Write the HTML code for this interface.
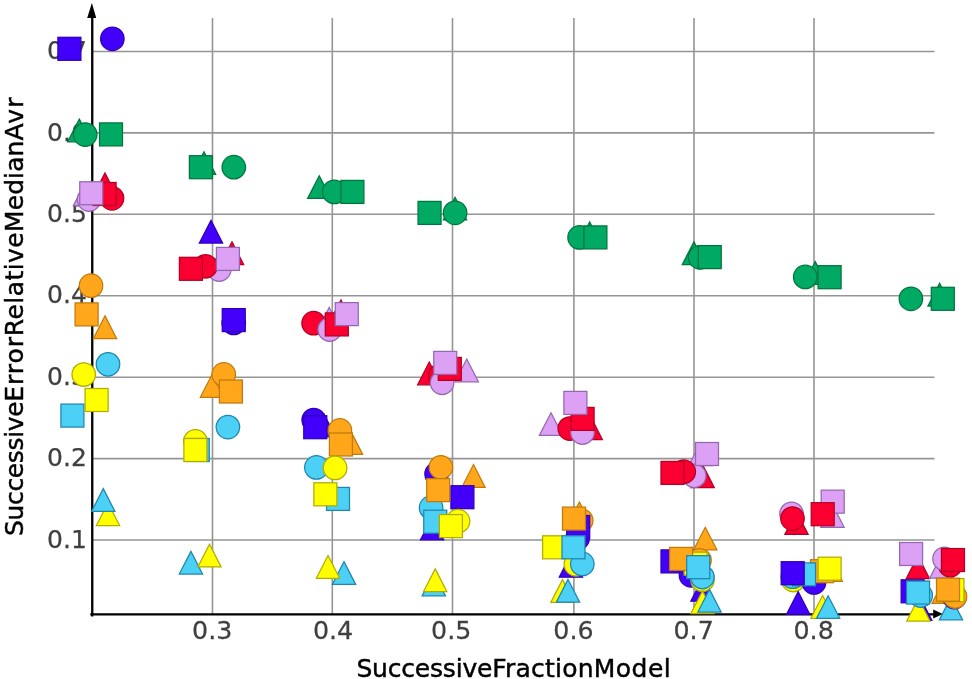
<!DOCTYPE html>
<html><head><meta charset="utf-8"><title>SuccessiveFractionModel</title>
<style>
html,body{margin:0;padding:0;background:#fff}
svg{display:block}
text{font-family:"DejaVu Sans","Liberation Sans",sans-serif}
.tk{font-size:25px;fill:#404040;stroke:#404040;stroke-width:0.25px}
.lb{font-size:25px;fill:#000;stroke:#000;stroke-width:0.45px}
</style></head><body>
<svg width="972" height="679" viewBox="0 0 972 679">
<rect width="972" height="679" fill="#fff"/>

<g stroke="#959595" stroke-width="1.6" fill="none">
<line x1="212.5" y1="18" x2="212.5" y2="614"/>
<line x1="332.3" y1="18" x2="332.3" y2="614"/>
<line x1="452.5" y1="18" x2="452.5" y2="614"/>
<line x1="573.9" y1="18" x2="573.9" y2="614"/>
<line x1="694.0" y1="18" x2="694.0" y2="614"/>
<line x1="814" y1="18" x2="814" y2="614"/>
<line x1="92" y1="51.5" x2="934.5" y2="51.5"/>
<line x1="92" y1="132.9" x2="934.5" y2="132.9"/>
<line x1="92" y1="214.3" x2="934.5" y2="214.3"/>
<line x1="92" y1="295.75" x2="934.5" y2="295.75"/>
<line x1="92" y1="377.2" x2="934.5" y2="377.2"/>
<line x1="92" y1="458.6" x2="934.5" y2="458.6"/>
<line x1="92" y1="540.0" x2="934.5" y2="540.0"/>
</g>
<g class="tk">
<text transform="translate(212.2,638.5) scale(1.012,1)" text-anchor="middle">0.3</text>
<text transform="translate(333.0,638.5) scale(1.012,1)" text-anchor="middle">0.4</text>
<text transform="translate(451.2,638.5) scale(1.012,1)" text-anchor="middle">0.5</text>
<text transform="translate(573.4,638.5) scale(1.012,1)" text-anchor="middle">0.6</text>
<text transform="translate(693.6,638.5) scale(1.012,1)" text-anchor="middle">0.7</text>
<text transform="translate(813.6,638.5) scale(1.012,1)" text-anchor="middle">0.8</text>
<text transform="translate(86.8,59.1) scale(1.0,1)" text-anchor="end">0.7</text>
<text transform="translate(86.8,140.5) scale(1.0,1)" text-anchor="end">0.6</text>
<text transform="translate(86.8,221.9) scale(1.0,1)" text-anchor="end">0.5</text>
<text transform="translate(86.8,303.35) scale(1.0,1)" text-anchor="end">0.4</text>
<text transform="translate(86.8,384.8) scale(1.0,1)" text-anchor="end">0.3</text>
<text transform="translate(86.8,466.20000000000005) scale(1.0,1)" text-anchor="end">0.2</text>
<text transform="translate(86.8,547.6) scale(1.0,1)" text-anchor="end">0.1</text>
</g>
<g stroke="#000" stroke-width="2.3" fill="none"><line x1="92.25" y1="10" x2="92.25" y2="616.4"/><line x1="90.3" y1="614.4" x2="936" y2="614.4"/></g>
<path d="M91.9 3 L96.2 18 L87.2 18 Z" fill="#000"/>
<path d="M942.9 614.0 L933.2 609.4 L933.2 618.6 Z" fill="#000"/>
<text class="lb" x="356.4" y="676.5" dx="0.00 -0.20 -0.21 -0.20 -0.20 -0.20 -0.21 -0.20 -0.20 -0.21 -0.20 0.21 0.21 0.21 0.21 0.21 0.21 0.21 0.21 0.50 0.50 0.50 0.50">SuccessiveFractionModel</text>
<text class="lb" transform="translate(22.8,0) rotate(-90)" x="-536.0" y="0" dx="0.00 -0.36 -0.35 -0.36 -0.36 -0.35 -0.36 -0.36 -0.36 -0.35 -0.36 0.93 0.93 0.93 0.93 0.93 0.41 0.41 0.41 0.41 0.41 0.41 0.41 0.41 0.08 0.08 0.08 0.08 0.08 0.08 1.16 1.16">SuccessiveErrorRelativeMedianAvr</text>
<g stroke-width="1.25" stroke-linejoin="miter">
<rect x="57.90" y="37.30" width="23.0" height="23.0" fill="#4200fa" stroke="#3000b8"/>
<circle cx="112.35" cy="38.80" r="11.75" fill="#4200fa" stroke="#3000b8"/>
<polygon points="79.30,119.05 90.95,141.75 67.65,141.75" fill="#00a964" stroke="#00763c"/>
<circle cx="85.20" cy="134.60" r="11.75" fill="#00a964" stroke="#00763c"/>
<rect x="99.50" y="122.90" width="23.0" height="23.0" fill="#00a964" stroke="#00763c"/>
<polygon points="85.00,183.15 96.65,205.85 73.35,205.85" fill="#dca0f4" stroke="#9468b0"/>
<polygon points="105.00,172.95 116.65,195.65 93.35,195.65" fill="#fa0030" stroke="#b40026"/>
<circle cx="89.00" cy="199.50" r="11.75" fill="#dca0f4" stroke="#9468b0"/>
<circle cx="112.00" cy="198.30" r="11.75" fill="#fa0030" stroke="#b40026"/>
<rect x="93.10" y="182.50" width="23.0" height="23.0" fill="#fa0030" stroke="#b40026"/>
<rect x="79.75" y="181.75" width="23.0" height="23.0" fill="#dca0f4" stroke="#9468b0"/>
<circle cx="91.00" cy="285.70" r="11.75" fill="#ffa61a" stroke="#c07a0c"/>
<polygon points="105.00,315.85 116.65,338.55 93.35,338.55" fill="#ffa61a" stroke="#c07a0c"/>
<rect x="75.10" y="302.90" width="23.0" height="23.0" fill="#ffa61a" stroke="#c07a0c"/>
<circle cx="108.00" cy="364.25" r="11.75" fill="#4cd0f6" stroke="#1f86ac"/>
<circle cx="83.75" cy="374.50" r="11.75" fill="#ffff00" stroke="#b0ac00"/>
<rect x="60.90" y="404.10" width="23.0" height="23.0" fill="#4cd0f6" stroke="#1f86ac"/>
<rect x="85.10" y="388.50" width="23.0" height="23.0" fill="#ffff00" stroke="#b0ac00"/>
<polygon points="108.00,502.85 119.65,525.55 96.35,525.55" fill="#ffff00" stroke="#b0ac00"/>
<polygon points="103.25,488.65 114.90,511.35 91.60,511.35" fill="#4cd0f6" stroke="#1f86ac"/>
<polygon points="204.00,151.75 215.65,174.45 192.35,174.45" fill="#00a964" stroke="#00763c"/>
<rect x="189.40" y="155.70" width="23.0" height="23.0" fill="#00a964" stroke="#00763c"/>
<circle cx="233.80" cy="167.20" r="11.75" fill="#00a964" stroke="#00763c"/>
<polygon points="211.00,220.35 222.65,243.05 199.35,243.05" fill="#4200fa" stroke="#3000b8"/>
<polygon points="232.00,241.85 243.65,264.55 220.35,264.55" fill="#fa0030" stroke="#b40026"/>
<circle cx="219.20" cy="269.50" r="11.75" fill="#dca0f4" stroke="#9468b0"/>
<circle cx="205.50" cy="266.25" r="11.75" fill="#fa0030" stroke="#b40026"/>
<rect x="179.40" y="257.30" width="23.0" height="23.0" fill="#fa0030" stroke="#b40026"/>
<rect x="216.40" y="247.40" width="23.0" height="23.0" fill="#dca0f4" stroke="#9468b0"/>
<circle cx="233.75" cy="322.90" r="11.75" fill="#4200fa" stroke="#3000b8"/>
<rect x="222.25" y="308.60" width="23.0" height="23.0" fill="#4200fa" stroke="#3000b8"/>
<polygon points="212.00,374.55 223.65,397.25 200.35,397.25" fill="#ffa61a" stroke="#c07a0c"/>
<circle cx="223.75" cy="374.40" r="11.75" fill="#ffa61a" stroke="#c07a0c"/>
<rect x="219.40" y="380.00" width="23.0" height="23.0" fill="#ffa61a" stroke="#c07a0c"/>
<circle cx="227.90" cy="427.10" r="11.75" fill="#4cd0f6" stroke="#1f86ac"/>
<circle cx="195.40" cy="441.25" r="11.75" fill="#ffff00" stroke="#b0ac00"/>
<rect x="186.25" y="438.50" width="23.0" height="23.0" fill="#4cd0f6" stroke="#1f86ac"/>
<rect x="183.90" y="438.50" width="23.0" height="23.0" fill="#ffff00" stroke="#b0ac00"/>
<polygon points="190.90,551.35 202.55,574.05 179.25,574.05" fill="#4cd0f6" stroke="#1f86ac"/>
<polygon points="209.50,544.25 221.15,566.95 197.85,566.95" fill="#ffff00" stroke="#b0ac00"/>
<polygon points="319.25,175.75 330.90,198.45 307.60,198.45" fill="#00a964" stroke="#00763c"/>
<circle cx="334.25" cy="191.90" r="11.75" fill="#00a964" stroke="#00763c"/>
<rect x="340.90" y="180.40" width="23.0" height="23.0" fill="#00a964" stroke="#00763c"/>
<polygon points="341.00,299.95 352.65,322.65 329.35,322.65" fill="#fa0030" stroke="#b40026"/>
<polygon points="329.25,307.45 340.90,330.15 317.60,330.15" fill="#dca0f4" stroke="#9468b0"/>
<circle cx="313.60" cy="323.20" r="11.75" fill="#fa0030" stroke="#b40026"/>
<circle cx="329.70" cy="329.50" r="11.75" fill="#dca0f4" stroke="#9468b0"/>
<rect x="325.30" y="312.90" width="23.0" height="23.0" fill="#fa0030" stroke="#b40026"/>
<rect x="335.25" y="302.60" width="23.0" height="23.0" fill="#dca0f4" stroke="#9468b0"/>
<polygon points="324.00,414.15 335.65,436.85 312.35,436.85" fill="#4200fa" stroke="#3000b8"/>
<circle cx="313.70" cy="420.00" r="11.75" fill="#4200fa" stroke="#3000b8"/>
<rect x="303.75" y="415.70" width="23.0" height="23.0" fill="#4200fa" stroke="#3000b8"/>
<polygon points="351.00,431.65 362.65,454.35 339.35,454.35" fill="#ffa61a" stroke="#c07a0c"/>
<circle cx="339.90" cy="430.40" r="11.75" fill="#ffa61a" stroke="#c07a0c"/>
<rect x="329.40" y="433.00" width="23.0" height="23.0" fill="#ffa61a" stroke="#c07a0c"/>
<circle cx="316.40" cy="467.40" r="11.75" fill="#4cd0f6" stroke="#1f86ac"/>
<circle cx="335.10" cy="467.90" r="11.75" fill="#ffff00" stroke="#b0ac00"/>
<rect x="326.50" y="487.40" width="23.0" height="23.0" fill="#4cd0f6" stroke="#1f86ac"/>
<rect x="313.90" y="482.80" width="23.0" height="23.0" fill="#ffff00" stroke="#b0ac00"/>
<polygon points="344.00,561.65 355.65,584.35 332.35,584.35" fill="#4cd0f6" stroke="#1f86ac"/>
<polygon points="328.00,555.55 339.65,578.25 316.35,578.25" fill="#ffff00" stroke="#b0ac00"/>
<polygon points="455.00,197.25 466.65,219.95 443.35,219.95" fill="#00a964" stroke="#00763c"/>
<rect x="418.05" y="201.40" width="23.0" height="23.0" fill="#00a964" stroke="#00763c"/>
<circle cx="455.10" cy="212.80" r="11.75" fill="#00a964" stroke="#00763c"/>
<polygon points="429.25,362.05 440.90,384.75 417.60,384.75" fill="#fa0030" stroke="#b40026"/>
<polygon points="466.75,359.05 478.40,381.75 455.10,381.75" fill="#dca0f4" stroke="#9468b0"/>
<circle cx="440.40" cy="375.30" r="11.75" fill="#fa0030" stroke="#b40026"/>
<circle cx="442.10" cy="382.75" r="11.75" fill="#dca0f4" stroke="#9468b0"/>
<rect x="438.30" y="357.40" width="23.0" height="23.0" fill="#fa0030" stroke="#b40026"/>
<rect x="433.75" y="351.40" width="23.0" height="23.0" fill="#dca0f4" stroke="#9468b0"/>
<circle cx="436.60" cy="474.10" r="11.75" fill="#4200fa" stroke="#3000b8"/>
<circle cx="440.90" cy="467.30" r="11.75" fill="#ffa61a" stroke="#c07a0c"/>
<polygon points="473.50,464.55 485.15,487.25 461.85,487.25" fill="#ffa61a" stroke="#c07a0c"/>
<rect x="450.90" y="485.70" width="23.0" height="23.0" fill="#4200fa" stroke="#3000b8"/>
<circle cx="431.10" cy="507.70" r="11.75" fill="#4cd0f6" stroke="#1f86ac"/>
<rect x="426.70" y="478.60" width="23.0" height="23.0" fill="#ffa61a" stroke="#c07a0c"/>
<polygon points="432.10,517.15 443.75,539.85 420.45,539.85" fill="#4200fa" stroke="#3000b8"/>
<circle cx="458.00" cy="521.20" r="11.75" fill="#ffff00" stroke="#b0ac00"/>
<rect x="423.75" y="510.20" width="23.0" height="23.0" fill="#4cd0f6" stroke="#1f86ac"/>
<rect x="439.40" y="514.60" width="23.0" height="23.0" fill="#ffff00" stroke="#b0ac00"/>
<polygon points="433.80,573.15 445.45,595.85 422.15,595.85" fill="#4cd0f6" stroke="#1f86ac"/>
<polygon points="435.20,568.85 446.85,591.55 423.55,591.55" fill="#ffff00" stroke="#b0ac00"/>
<polygon points="589.75,221.95 601.40,244.65 578.10,244.65" fill="#00a964" stroke="#00763c"/>
<circle cx="579.60" cy="237.40" r="11.75" fill="#00a964" stroke="#00763c"/>
<rect x="583.90" y="225.90" width="23.0" height="23.0" fill="#00a964" stroke="#00763c"/>
<polygon points="551.00,412.75 562.65,435.45 539.35,435.45" fill="#dca0f4" stroke="#9468b0"/>
<polygon points="590.75,416.85 602.40,439.55 579.10,439.55" fill="#fa0030" stroke="#b40026"/>
<circle cx="569.75" cy="428.60" r="11.75" fill="#fa0030" stroke="#b40026"/>
<circle cx="582.50" cy="432.50" r="11.75" fill="#dca0f4" stroke="#9468b0"/>
<rect x="571.10" y="407.40" width="23.0" height="23.0" fill="#fa0030" stroke="#b40026"/>
<rect x="563.90" y="391.40" width="23.0" height="23.0" fill="#dca0f4" stroke="#9468b0"/>
<polygon points="579.40,502.05 591.05,524.75 567.75,524.75" fill="#ffa61a" stroke="#c07a0c"/>
<circle cx="577.60" cy="538.30" r="11.75" fill="#4200fa" stroke="#3000b8"/>
<circle cx="581.20" cy="520.50" r="11.75" fill="#ffa61a" stroke="#c07a0c"/>
<rect x="566.70" y="515.50" width="23.0" height="23.0" fill="#4200fa" stroke="#3000b8"/>
<rect x="562.50" y="507.10" width="23.0" height="23.0" fill="#ffa61a" stroke="#c07a0c"/>
<polygon points="570.90,554.45 582.55,577.15 559.25,577.15" fill="#4200fa" stroke="#3000b8"/>
<circle cx="575.90" cy="564.30" r="11.75" fill="#ffff00" stroke="#b0ac00"/>
<circle cx="582.30" cy="563.90" r="11.75" fill="#4cd0f6" stroke="#1f86ac"/>
<rect x="542.60" y="535.80" width="23.0" height="23.0" fill="#ffff00" stroke="#b0ac00"/>
<rect x="562.00" y="535.80" width="23.0" height="23.0" fill="#4cd0f6" stroke="#1f86ac"/>
<polygon points="562.50,579.65 574.15,602.35 550.85,602.35" fill="#ffff00" stroke="#b0ac00"/>
<polygon points="568.00,579.45 579.65,602.15 556.35,602.15" fill="#4cd0f6" stroke="#1f86ac"/>
<polygon points="693.90,241.85 705.55,264.55 682.25,264.55" fill="#00a964" stroke="#00763c"/>
<circle cx="700.05" cy="257.30" r="11.75" fill="#00a964" stroke="#00763c"/>
<rect x="698.25" y="245.60" width="23.0" height="23.0" fill="#00a964" stroke="#00763c"/>
<polygon points="702.65,464.85 714.30,487.55 691.00,487.55" fill="#fa0030" stroke="#b40026"/>
<polygon points="700.40,442.85 712.05,465.55 688.75,465.55" fill="#dca0f4" stroke="#9468b0"/>
<circle cx="694.25" cy="475.75" r="11.75" fill="#dca0f4" stroke="#9468b0"/>
<circle cx="683.75" cy="471.70" r="11.75" fill="#fa0030" stroke="#b40026"/>
<rect x="661.00" y="461.40" width="23.0" height="23.0" fill="#fa0030" stroke="#b40026"/>
<rect x="695.50" y="442.50" width="23.0" height="23.0" fill="#dca0f4" stroke="#9468b0"/>
<polygon points="705.25,527.25 716.90,549.95 693.60,549.95" fill="#ffa61a" stroke="#c07a0c"/>
<rect x="661.00" y="549.90" width="23.0" height="23.0" fill="#4200fa" stroke="#3000b8"/>
<circle cx="691.00" cy="575.30" r="11.75" fill="#4200fa" stroke="#3000b8"/>
<circle cx="699.50" cy="560.30" r="11.75" fill="#ffa61a" stroke="#c07a0c"/>
<rect x="684.10" y="552.20" width="23.0" height="23.0" fill="#ffff00" stroke="#b0ac00"/>
<rect x="669.60" y="547.40" width="23.0" height="23.0" fill="#ffa61a" stroke="#c07a0c"/>
<polygon points="702.50,578.45 714.15,601.15 690.85,601.15" fill="#4200fa" stroke="#3000b8"/>
<circle cx="702.50" cy="579.70" r="11.75" fill="#ffff00" stroke="#b0ac00"/>
<circle cx="702.40" cy="577.00" r="11.75" fill="#4cd0f6" stroke="#1f86ac"/>
<rect x="686.70" y="555.70" width="23.0" height="23.0" fill="#4cd0f6" stroke="#1f86ac"/>
<polygon points="702.50,590.85 714.15,613.55 690.85,613.55" fill="#ffff00" stroke="#b0ac00"/>
<polygon points="709.50,589.35 721.15,612.05 697.85,612.05" fill="#4cd0f6" stroke="#1f86ac"/>
<polygon points="815.25,261.65 826.90,284.35 803.60,284.35" fill="#00a964" stroke="#00763c"/>
<circle cx="805.25" cy="276.90" r="11.75" fill="#00a964" stroke="#00763c"/>
<rect x="818.10" y="265.70" width="23.0" height="23.0" fill="#00a964" stroke="#00763c"/>
<polygon points="796.50,511.65 808.15,534.35 784.85,534.35" fill="#fa0030" stroke="#b40026"/>
<polygon points="832.50,504.55 844.15,527.25 820.85,527.25" fill="#dca0f4" stroke="#9468b0"/>
<circle cx="791.50" cy="513.75" r="11.75" fill="#dca0f4" stroke="#9468b0"/>
<circle cx="792.50" cy="518.60" r="11.75" fill="#fa0030" stroke="#b40026"/>
<rect x="821.20" y="490.15" width="23.0" height="23.0" fill="#dca0f4" stroke="#9468b0"/>
<rect x="811.20" y="502.70" width="23.0" height="23.0" fill="#fa0030" stroke="#b40026"/>
<circle cx="793.40" cy="580.00" r="11.75" fill="#ffff00" stroke="#b0ac00"/>
<circle cx="792.75" cy="576.70" r="11.75" fill="#4cd0f6" stroke="#1f86ac"/>
<circle cx="814.00" cy="582.40" r="11.75" fill="#4200fa" stroke="#3000b8"/>
<polygon points="830.80,558.65 842.45,581.35 819.15,581.35" fill="#ffa61a" stroke="#c07a0c"/>
<rect x="810.50" y="559.70" width="23.0" height="23.0" fill="#ffa61a" stroke="#c07a0c"/>
<rect x="792.50" y="562.85" width="23.0" height="23.0" fill="#4cd0f6" stroke="#1f86ac"/>
<rect x="781.20" y="561.70" width="23.0" height="23.0" fill="#4200fa" stroke="#3000b8"/>
<rect x="818.10" y="557.20" width="23.0" height="23.0" fill="#ffff00" stroke="#b0ac00"/>
<polygon points="798.15,591.65 809.80,614.35 786.50,614.35" fill="#4200fa" stroke="#3000b8"/>
<polygon points="822.60,595.55 834.25,618.25 810.95,618.25" fill="#ffff00" stroke="#b0ac00"/>
<polygon points="828.10,595.75 839.75,618.45 816.45,618.45" fill="#4cd0f6" stroke="#1f86ac"/>
<polygon points="939.60,283.35 951.25,306.05 927.95,306.05" fill="#00a964" stroke="#00763c"/>
<circle cx="910.90" cy="298.80" r="11.75" fill="#00a964" stroke="#00763c"/>
<rect x="931.30" y="287.30" width="23.0" height="23.0" fill="#00a964" stroke="#00763c"/>
<polygon points="917.90,555.85 929.55,578.55 906.25,578.55" fill="#fa0030" stroke="#b40026"/>
<polygon points="941.40,555.35 953.05,578.05 929.75,578.05" fill="#dca0f4" stroke="#9468b0"/>
<circle cx="950.25" cy="565.25" r="11.75" fill="#fa0030" stroke="#b40026"/>
<circle cx="944.50" cy="558.75" r="11.75" fill="#dca0f4" stroke="#9468b0"/>
<rect x="899.60" y="542.50" width="23.0" height="23.0" fill="#dca0f4" stroke="#9468b0"/>
<rect x="941.45" y="548.55" width="23.0" height="23.0" fill="#fa0030" stroke="#b40026"/>
<polygon points="920.20,597.65 931.85,620.35 908.55,620.35" fill="#4200fa" stroke="#3000b8"/>
<polygon points="918.40,598.35 930.05,621.05 906.75,621.05" fill="#ffff00" stroke="#b0ac00"/>
<polygon points="951.00,597.15 962.65,619.85 939.35,619.85" fill="#4cd0f6" stroke="#1f86ac"/>
<polygon points="943.70,580.65 955.35,603.35 932.05,603.35" fill="#ffa61a" stroke="#c07a0c"/>
<circle cx="954.50" cy="597.10" r="11.75" fill="#4200fa" stroke="#3000b8"/>
<circle cx="955.00" cy="596.50" r="11.75" fill="#ffa61a" stroke="#c07a0c"/>
<circle cx="950.00" cy="590.00" r="11.75" fill="#ffff00" stroke="#b0ac00"/>
<circle cx="920.70" cy="595.50" r="11.75" fill="#4cd0f6" stroke="#1f86ac"/>
<rect x="901.15" y="579.80" width="23.0" height="23.0" fill="#4200fa" stroke="#3000b8"/>
<rect x="940.95" y="578.60" width="23.0" height="23.0" fill="#ffff00" stroke="#b0ac00"/>
<rect x="906.55" y="581.05" width="23.0" height="23.0" fill="#4cd0f6" stroke="#1f86ac"/>
<rect x="936.50" y="578.20" width="23.0" height="23.0" fill="#ffa61a" stroke="#c07a0c"/>
</g>
</svg>
</body></html>
